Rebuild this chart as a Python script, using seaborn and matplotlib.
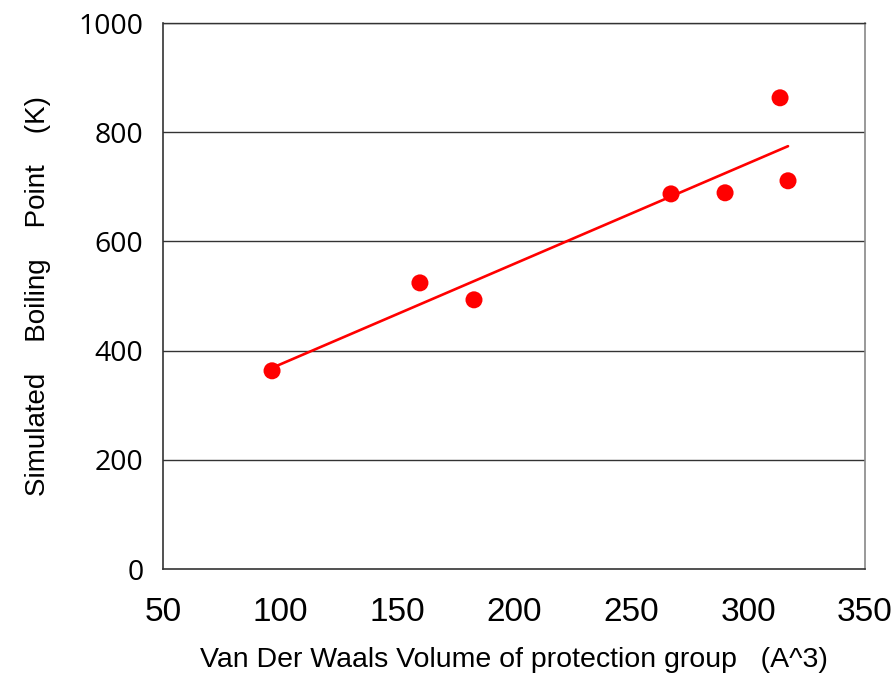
import matplotlib
matplotlib.use("Agg")
import matplotlib.pyplot as plt
import seaborn as sns
import pandas as pd

volume = [96.6, 159.8, 182.9, 267.1, 290.2, 313.7, 317.1]
boiling = [363, 524, 493, 687, 689, 863, 711]
x_ticks = [50, 100, 150, 200, 250, 300, 350]
y_ticks = [0, 200, 400, 600, 800, 1000]

sns.set_theme(style="white")
plt.rcParams['font.family'] = ['Liberation Sans', 'DejaVu Sans']

df = pd.DataFrame({"volume": volume, "boiling": boiling})

fig = plt.figure(figsize=(8.93, 6.78), dpi=100)
ax = fig.add_axes([163/893, 1-569/678, (865-163)/893, (569-23)/678])

ax.set_axisbelow(True)
for yv in y_ticks[1:]:
    ax.axhline(yv, color="#333333", lw=1.0, zorder=0)

sns.regplot(data=df, x="volume", y="boiling", ax=ax, ci=None,
            scatter_kws=dict(color="#ff0000", s=150, edgecolor="none", zorder=3, alpha=1),
            line_kws=dict(color="#ff0000", lw=1.9, zorder=2))

ax.set_xlim(50, 350)
ax.set_ylim(0, 1000)
ax.set_xticks(x_ticks)
ax.set_yticks(y_ticks)
ax.tick_params(axis="both", direction="in", length=7, width=1, color="#333333",
               labelcolor="black")
ax.tick_params(axis="x", pad=20, labelsize=24)
ax.tick_params(axis="y", pad=14, labelsize=20.5)
for t in ax.get_yticklabels():
    t.set_fontfamily(['Open Sans', 'DejaVu Sans'])

for s in ["left", "bottom"]:
    ax.spines[s].set_color("#333333")
    ax.spines[s].set_linewidth(1.2)
ax.spines["top"].set_color("#333333")
ax.spines["top"].set_linewidth(1.0)
ax.spines["right"].set_color("#888888")
ax.spines["right"].set_linewidth(1.2)

ax.set_xlabel("Van Der Waals Volume of protection group   (A^3)", fontsize=20.5,
              labelpad=14, color="black")
ax.set_ylabel("Simulated    Boiling    Point    (K)", fontsize=20,
              labelpad=20, color="black")

fig.savefig("out.png", dpi=100)
